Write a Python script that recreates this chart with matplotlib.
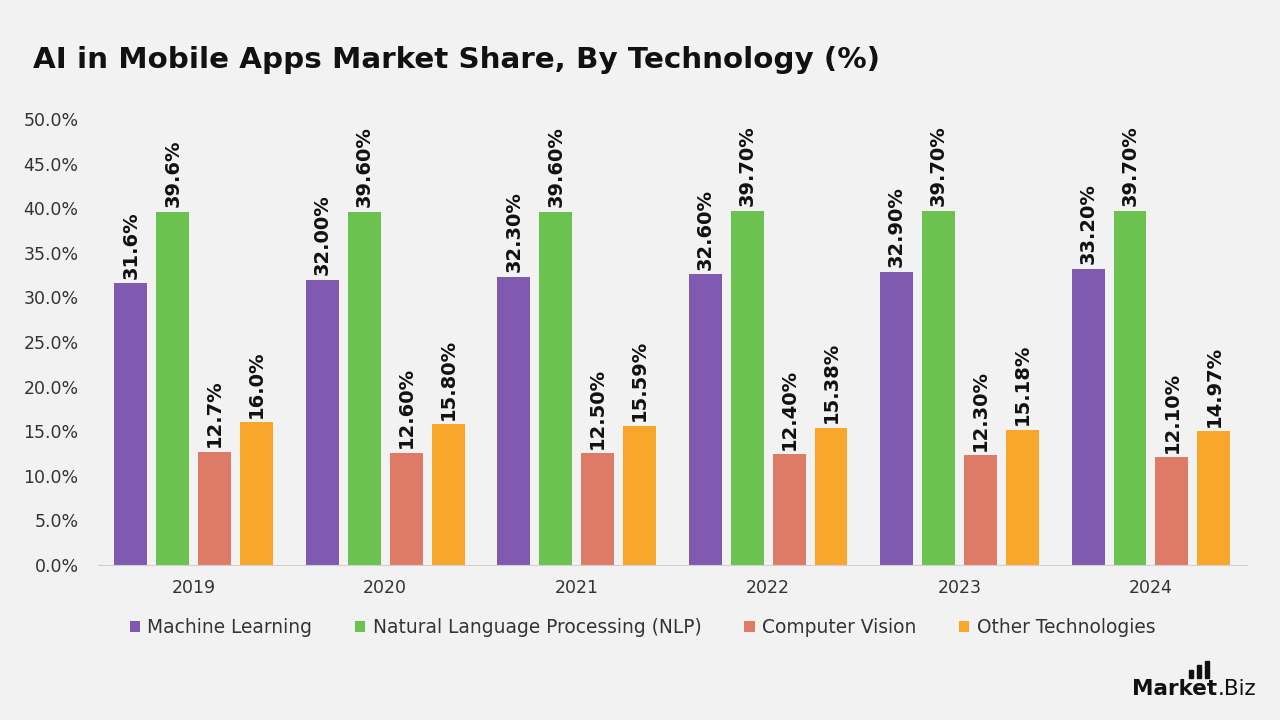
import numpy as np
import matplotlib
matplotlib.use('Agg')
import matplotlib.pyplot as plt
from matplotlib.patches import Rectangle

years = ['2019', '2020', '2021', '2022', '2023', '2024']
series = ['Machine Learning', 'Natural Language Processing (NLP)',
          'Computer Vision', 'Other Technologies']
ml = [31.6, 32.0, 32.3, 32.6, 32.9, 33.2]
nlp = [39.6, 39.6, 39.6, 39.7, 39.7, 39.7]
cv = [12.7, 12.6, 12.5, 12.4, 12.3, 12.1]
other = [16.0, 15.8, 15.59, 15.38, 15.18, 14.97]
ml_lbl = ['31.6%', '32.00%', '32.30%', '32.60%', '32.90%', '33.20%']
nlp_lbl = ['39.6%', '39.60%', '39.60%', '39.70%', '39.70%', '39.70%']
cv_lbl = ['12.7%', '12.60%', '12.50%', '12.40%', '12.30%', '12.10%']
other_lbl = ['16.0%', '15.80%', '15.59%', '15.38%', '15.18%', '14.97%']
colors = ['#7F5AB0', '#6CC24F', '#DE7B67', '#F9A72B']

plt.rcParams['font.family'] = ['DejaVu Sans']
bg = '#F2F2F2'
fig = plt.figure(figsize=(12.8, 7.2), dpi=100, facecolor=bg)
ax = fig.add_axes([0.0766, 0.2153, 0.8974, 0.6194], facecolor=bg)

x = np.arange(len(years))
w = 0.172
pitch = 0.219
offs = (np.arange(4) - 1.5) * pitch
for vals, lbls, c, o, name in zip([ml, nlp, cv, other],
                                  [ml_lbl, nlp_lbl, cv_lbl, other_lbl],
                                  colors, offs, series):
    bars = ax.bar(x + o, vals, width=w, color=c, label=name)
    for b, t in zip(bars, lbls):
        ax.text(b.get_x() + b.get_width() / 2, b.get_height() + 0.5, t,
                rotation=90, ha='center', va='bottom', fontsize=14,
                fontweight='bold', color='#111111')

ax.set_xlim(-0.5, len(years) - 0.5)
ax.set_ylim(0, 50)
ax.set_yticks(np.arange(0, 50.1, 5))
ax.set_yticklabels([f'{v:.1f}%' for v in np.arange(0, 50.1, 5)])
ax.set_xticks(x)
ax.set_xticklabels(years)
ax.tick_params(axis='both', length=0, labelsize=12.5, colors='#333333')
ax.tick_params(axis='y', pad=14)
ax.tick_params(axis='x', pad=10)
for s in ['top', 'right', 'left']:
    ax.spines[s].set_visible(False)
ax.spines['bottom'].set_color('#D0D0D0')

fig.text(0.026, 0.917, 'AI in Mobile Apps Market Share, By Technology (%)',
         fontsize=21.2, fontweight='bold', color='#111111', va='center')

leg = fig.legend(loc='center', bbox_to_anchor=(0.502, 0.128), ncol=4,
                 frameon=False, fontsize=13.4, handlelength=0.55,
                 handleheight=0.55, handletextpad=0.4, columnspacing=2.3)
for t in leg.get_texts():
    t.set_color('#333333')

# logo
lx, ly = 0.951, 0.043
fig.text(lx, ly, 'Market', fontsize=15.5, fontweight='bold',
         color='#111111', va='center', ha='right')
fig.text(lx, ly, '.Biz', fontsize=15.5, color='#111111', va='center',
         ha='left')
for i, h in enumerate([0.012, 0.018, 0.024]):
    fig.add_artist(Rectangle((0.929 + i * 0.0062, 0.058), 0.0032, h,
                             transform=fig.transFigure, color='#111111'))

fig.savefig('out.png', dpi=100, facecolor=bg)
